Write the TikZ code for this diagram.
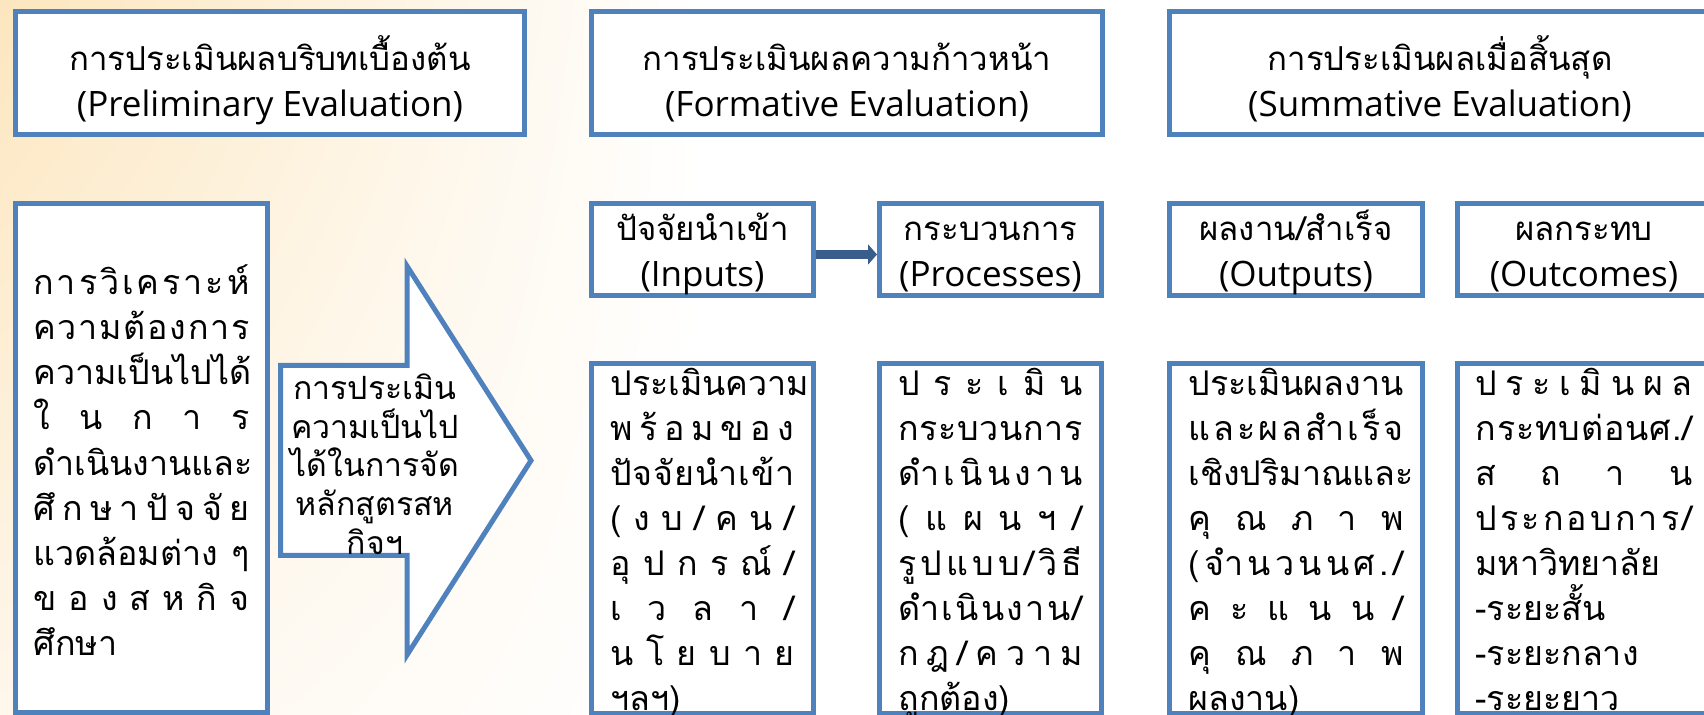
\documentclass[tikz,border=0pt]{standalone}
\usepackage{fontspec}
\setmainfont[Script=Thai]{Loma}
\newfontfamily\latinfont{Open Sans}
\usetikzlibrary{arrows.meta,positioning,shadings}

\definecolor{boxblue}{RGB}{79,129,189}
\definecolor{linkblue}{RGB}{58,94,140}
\definecolor{bgpeach}{RGB}{252,230,190}
\definecolor{bgcream}{RGB}{254,247,236}

% one line of a distributed thai column
\newcommand{\spreadline}[1]{\hbox to \hsize{\vrule height .9em width 0pt\relax\frenchspacing\spaceskip=0pt plus 1fil\relax #1}}
\newcommand{\plainline}[1]{\hbox{\vrule height .9em width 0pt\relax #1}}
% thai title over english title
\newcommand{\headtext}[4]{\vrule height #1 width 0pt\relax #3\\{\latinfont\fontsize{17.5}{23}\selectfont #4\vrule depth #2 width 0pt}}

\begin{document}
\begin{tikzpicture}[x=0.5pt, y=-0.5pt,
    box/.style={draw=boxblue, line width=2.5pt, fill=white, inner sep=0pt},
    headbox/.style={box, minimum height=61.5pt, align=center, font=\fontsize{16.5}{23}\selectfont},
    partbox/.style={box, minimum height=46pt, align=center, font=\fontsize{16.5}{23}\selectfont},
    evalbox/.style={box, minimum height=175pt},
    evaltext/.style={inner sep=0pt, font=\fontsize{17}{22.5}\selectfont}]
    \useasboundingbox (0,0) rectangle (1704,715);

    % background
    \fill[white] (0,0) rectangle (1704,715);
    \shade[upper left=bgpeach, lower left=bgcream, upper right=white, lower right=white] (0,0) rectangle (700,715);

    % headers
    \node (prelim) at (270,73) [headbox, minimum width=254.5pt] {\headtext{27pt}{6pt}{การประเมินผลบริบทเบื้องต้น}{(Preliminary Evaluation)}};
    \node (formative) at (847,73) [headbox, minimum width=255.5pt] {\headtext{27pt}{6pt}{การประเมินผลความก้าวหน้า}{(Formative Evaluation)}};
    \node (summative) at (1440,73) [headbox, minimum width=270.5pt] {\headtext{27pt}{6pt}{การประเมินผลเมื่อสิ้นสุด}{(Summative Evaluation)}};

    % parts
    \node (inputs) at (702.5,249.5) [partbox, minimum width=111pt] {\headtext{18.5pt}{4.5pt}{ปัจจัยนำเข้า}{(Inputs)}};
    \node (processes) at (990.5,249.5) [partbox, minimum width=111pt] {\headtext{18.5pt}{4.5pt}{กระบวนการ}{(Processes)}};
    \node (outputs) at (1296,249.5) [partbox, minimum width=126.5pt] {\headtext{18.5pt}{4.5pt}{ผลงาน/สำเร็จ}{(Outputs)}};
    \node (outcomes) at (1584,249.5) [partbox, minimum width=126.5pt] {\headtext{18.5pt}{4.5pt}{ผลกระทบ}{(Outcomes)}};

    \draw [-{Triangle[length=4.5pt, width=10pt]}, line width=4.5pt, linkblue] ([yshift=-2.5pt]inputs.east)--([yshift=-2.5pt]processes.west);

    % context box
    \node (context) at (141.5,458) [box, minimum width=126pt, minimum height=254.5pt] {};
    \node (contextText) [evaltext, font=\fontsize{17}{22.6}\selectfont, text width=108pt, below=31.2pt of context.north] {%
        \spreadline{ก า ร วิ เ ค ร า ะ ห์}
        \spreadline{ค ว า ม ต้ อ ง ก า ร}
        \spreadline{ค ว า ม เ ป็ น ไ ป ไ ด้}
        \spreadline{ใ น ก า ร}
        \spreadline{ดำ เ นิ น ง า น แ ล ะ}
        \spreadline{ศึ ก ษ า ปั จ จั ย}
        \spreadline{แวดล้อมต่าง ๆ}
        \spreadline{ข อ ง ส ห กิ จ}
        \plainline{ศึกษา}};

    % feasibility arrow
    \draw [boxblue, line width=2.5pt, fill=white] (280.5,365.5) -- (407,365.5) -- (407,266) -- (531,460.5) -- (407,655) -- (407,555.5) -- (280.5,555.5) -- cycle;
    \node (feasibility) at (375,464) [align=center, inner sep=0pt, font=\fontsize{16}{19.35}\selectfont] {การประเมิน\\ความเป็นไป\\ได้ในการจัด\\หลักสูตรสห\\กิจฯ};

    % evaluation boxes
    \node (inEval) at (702.5,538.5) [evalbox, minimum width=111pt] {};
    \node (procEval) at (990.5,538.5) [evalbox, minimum width=111pt] {};
    \node (outEval) at (1296,538.5) [evalbox, minimum width=126.5pt] {};
    \node (impactEval) at (1584,538.5) [evalbox, minimum width=126.5pt] {};

    \node (inText) [evaltext, text width=92pt, below=1.7pt of inEval.north] {%
        \spreadline{ป ร ะ เ มิ น ค ว า ม}
        \spreadline{พ ร้ อ ม ข อ ง}
        \spreadline{ปั จ จั ย นำ เ ข้ า}
        \spreadline{( ง บ / ค น /}
        \spreadline{อุ ป ก ร ณ์ /}
        \spreadline{เ ว ล า /}
        \spreadline{น โ ย บ า ย}
        \plainline{ฯลฯ)}};
    \node (procText) [evaltext, text width=92pt, below=1.7pt of procEval.north] {%
        \spreadline{ป ร ะ เ มิ น}
        \spreadline{ก ร ะ บ ว น ก า ร}
        \spreadline{ดำ เ นิ น ง า น}
        \spreadline{( แ ผ น ฯ /}
        \spreadline{รู ป แ บ บ / วิ ธี}
        \spreadline{ดำ เ นิ น ง า น /}
        \spreadline{ก ฎ / ค ว า ม}
        \plainline{ถูกต้อง)}};
    \node (outText) [evaltext, text width=107.5pt, below=1.7pt of outEval.north] {%
        \spreadline{ป ร ะ เ มิ น ผ ล ง า น}
        \spreadline{แ ล ะ ผ ล สำ เ ร็ จ}
        \spreadline{เ ชิ ง ป ริ ม า ณ แ ล ะ}
        \spreadline{คุ ณ ภ า พ}
        \spreadline{( จำ น ว น น ศ . /}
        \spreadline{ค ะ แ น น /}
        \spreadline{คุ ณ ภ า พ}
        \plainline{ผลงาน)}};
    \node (impactText) [evaltext, text width=108.5pt, below=1.7pt of impactEval.north] {%
        \spreadline{ป ร ะ เ มิ น ผ ล}
        \spreadline{ก ร ะ ท บ ต่ อ น ศ . /}
        \spreadline{ส ถ า น}
        \spreadline{ป ร ะ ก อ บ ก า ร /}
        \plainline{มหาวิทยาลัย}
        \plainline{-ระยะสั้น}
        \plainline{-ระยะกลาง}
        \plainline{-ระยะยาว}};

\end{tikzpicture}
\end{document}
